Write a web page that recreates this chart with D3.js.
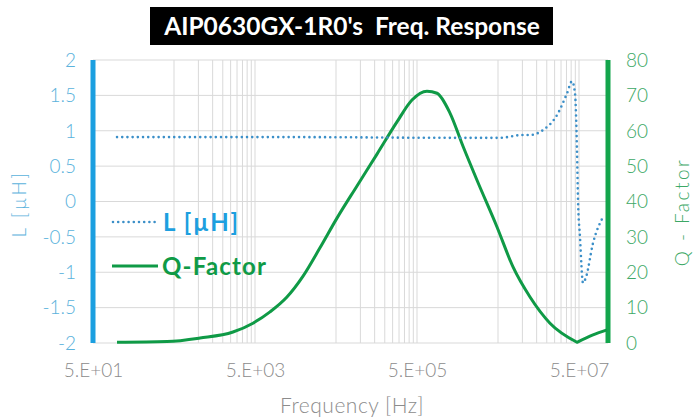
<!DOCTYPE html>
<html>
<head>
<meta charset="utf-8">
<script src="https://cdn.jsdelivr.net/npm/d3@7"></script>
<style>
  html, body { margin: 0; padding: 0; background: #fff; }
  svg { display: block; }
</style>
</head>
<body>
<svg id="chart" width="694" height="420"></svg>
<script>
// ---------- data ----------
const titleText = "AIP0630GX-1R0's  Freq. Response";
const xTickValues = [5e1, 5e3, 5e5, 5e7];
const xTickLabels = ["5.E+01", "5.E+03", "5.E+05", "5.E+07"];
const yLeftTicks = [2, 1.5, 1, 0.5, 0, -0.5, -1, -1.5, -2];
const yLeftLabels = ["2", "1.5", "1", "0.5", "0", "-0.5", "-1", "-1.5", "-2"];
const yRightTicks = [80, 70, 60, 50, 40, 30, 20, 10, 0];

const qFreq = [99, 410, 1047, 2675, 4720, 7660, 12400, 19600, 31700, 51400, 90800, 160400, 283000, 433500, 664000, 883000, 1277000, 1849000, 2754000, 4.86e6, 7.66e6, 1.242e7, 2.19e7, 4.72e7, 7.44e7, 1.11e8];
const qValue = [0.2, 0.4, 1.4, 3.1, 5.6, 8.8, 13.0, 18.9, 26.9, 35.3, 44.4, 53.4, 62.5, 68.7, 71.2, 70.6, 65.0, 55.6, 46.0, 32.8, 21.5, 13.0, 5.6, 0.2, 2.3, 3.7];

const lFreq = [99, 18000, 1.28e6, 5.3e6, 9.9e6, 1.24e7, 1.8e7, 2.67e7, 3.56e7, 4.1e7, 4.46e7, 4.72e7, 4.86e7, 5.14e7, 5.6e7, 6.1e7, 7.44e7, 9.9e7];
const lValue = [0.91, 0.91, 0.90, 0.90, 0.94, 0.94, 1.01, 1.22, 1.53, 1.70, 1.53, 0.73, 0.02, -0.50, -1.15, -1.07, -0.59, -0.22];

// ---------- layout ----------
const svg = d3.select("#chart");
const L = 93, R = 608, T = 60, B = 343;
const xMin = 50, xMax = 1.14e8;

const x = d3.scaleLog().domain([xMin, xMax]).range([L, R]);
const yL = d3.scaleLinear().domain([-2, 2]).range([B, T]);
const yR = d3.scaleLinear().domain([0, 80]).range([B, T]);

const gridColor = "#d9d9d9";
const blueAxis = "#1b9fe0";
const greenAxis = "#13a54c";
const qColor = "#0f9a46";
const lColor = "#3b8fc8";
const tickFont = "Lato";

// gridlines: vertical at major ticks and minor (Excel log base 100 style)
const gridX = [];
for (let m = 50; m < xMax; m *= 100) {
  gridX.push(m);
  for (let k = 1; k <= 9; k++) {
    const v = k * m * 10;
    if (v < xMax) gridX.push(v);
  }
}
svg.append("g").selectAll("line").data(gridX).join("line")
  .attr("x1", d => x(d)).attr("x2", d => x(d))
  .attr("y1", T).attr("y2", B)
  .attr("stroke", gridColor).attr("stroke-width", 1);

svg.append("g").selectAll("line").data(yLeftTicks).join("line")
  .attr("x1", L).attr("x2", R)
  .attr("y1", d => yL(d)).attr("y2", d => yL(d))
  .attr("stroke", gridColor).attr("stroke-width", 1);

// axes bars
svg.append("line").attr("x1", L).attr("x2", L).attr("y1", T).attr("y2", B)
  .attr("stroke", blueAxis).attr("stroke-width", 5);
svg.append("line").attr("x1", R).attr("x2", R).attr("y1", T).attr("y2", B)
  .attr("stroke", greenAxis).attr("stroke-width", 5);

// Q-factor line (sharp notch at its minimum near self-resonance)
const qData = qFreq.map((f, i) => [f, qValue[i]]);
let minIdx = 0, best = Infinity;
qData.forEach((d, i) => { if (i > 10 && d[1] < best) { best = d[1]; minIdx = i; } });
const qLine = d3.line().x(d => x(d[0])).y(d => yR(d[1])).curve(d3.curveMonotoneX);
const qPathD = qLine(qData.slice(0, minIdx + 1)) + qLine(qData.slice(minIdx)).replace(/^M[^CLc]*/, "");
svg.append("path")
  .attr("fill", "none").attr("stroke", qColor).attr("stroke-width", 3)
  .attr("stroke-linejoin", "round")
  .attr("d", qPathD);

// L line (dotted)
const lData = lFreq.map((f, i) => [f, lValue[i]]);
svg.append("path").datum(lData)
  .attr("fill", "none").attr("stroke", lColor).attr("stroke-width", 2.6)
  .attr("stroke-linecap", "round").attr("stroke-dasharray", "0,5.2")
  .attr("d", d3.line().x(d => x(d[0])).y(d => yL(d[1])).curve(d3.curveMonotoneX));

// left tick labels
svg.append("g").selectAll("text").data(yLeftTicks).join("text")
  .attr("x", 76).attr("y", d => yL(d)).attr("dy", "0.36em")
  .attr("text-anchor", "end")
  .attr("font-family", tickFont).attr("font-weight", 300).attr("font-size", 19)
  .attr("fill", "#5ab2dc")
  .text((d, i) => yLeftLabels[i]);

// right tick labels
svg.append("g").selectAll("text").data(yRightTicks).join("text")
  .attr("x", 626).attr("y", d => yR(d)).attr("dy", "0.36em")
  .attr("text-anchor", "start")
  .attr("font-family", tickFont).attr("font-weight", 300).attr("font-size", 19)
  .attr("fill", "#3ca865")
  .text(d => d);

// x tick labels
const xAxis = d3.axisBottom(x).tickValues(xTickValues)
  .tickFormat((d, i) => xTickLabels[i]).tickSize(0).tickPadding(0);
const gx = svg.append("g").attr("transform", `translate(0,${B})`).call(xAxis);
gx.select(".domain").remove();
gx.selectAll("text")
  .attr("y", 27).attr("dy", "0.36em")
  .attr("font-family", tickFont).attr("font-weight", 300).attr("font-size", 19).attr("fill", "#8c8c8c");

// axis titles
svg.append("text")
  .attr("transform", `translate(19,204) rotate(-90)`)
  .attr("text-anchor", "middle").attr("dy", "0.36em")
  .attr("font-family", tickFont).attr("font-weight", 300).attr("font-size", 19)
  .attr("letter-spacing", 2.5).attr("fill", "#5ab2dc")
  .text("L [µH]");
svg.append("text")
  .attr("transform", `translate(682,212) rotate(-90)`)
  .attr("text-anchor", "middle").attr("dy", "0.36em")
  .attr("font-family", tickFont).attr("font-weight", 300).attr("font-size", 19)
  .attr("letter-spacing", 2.5).attr("fill", "#3ca865")
  .text("Q - Factor");
svg.append("text")
  .attr("x", 352).attr("y", 405).attr("dy", "0.36em")
  .attr("text-anchor", "middle")
  .attr("font-family", tickFont).attr("font-weight", 300).attr("font-size", 21)
  .attr("letter-spacing", 0.5).attr("fill", "#8c8c8c")
  .text("Frequency [Hz]");

// title
svg.append("rect").attr("x", 150).attr("y", 7).attr("width", 403).attr("height", 38).attr("fill", "#000");
svg.append("text")
  .attr("x", 352).attr("y", 26).attr("dy", "0.36em")
  .attr("text-anchor", "middle")
  .attr("font-family", "Lato").attr("font-weight", "bold").attr("font-size", 24.5)
  .attr("fill", "#fff").attr("xml:space", "preserve")
  .style("white-space", "pre")
  .text(titleText);

// legend
const lg = svg.append("g");
lg.append("line").attr("x1", 113).attr("x2", 156).attr("y1", 222).attr("y2", 222)
  .attr("stroke", lColor).attr("stroke-width", 2.6)
  .attr("stroke-linecap", "round").attr("stroke-dasharray", "0,5.2");
lg.append("text").attr("x", 163).attr("y", 222).attr("dy", "0.36em")
  .attr("font-family", "Lato").attr("font-weight", "bold").attr("font-size", 24)
  .attr("letter-spacing", 1.6).attr("fill", "#1d9fdf").text("L [µH]");
lg.append("line").attr("x1", 112).attr("x2", 158).attr("y1", 266).attr("y2", 266)
  .attr("stroke", qColor).attr("stroke-width", 3);
lg.append("text").attr("x", 162).attr("y", 266).attr("dy", "0.36em")
  .attr("font-family", "Lato").attr("font-weight", "bold").attr("font-size", 24)
  .attr("letter-spacing", 1.2).attr("fill", qColor).text("Q-Factor");
</script>
</body>
</html>
